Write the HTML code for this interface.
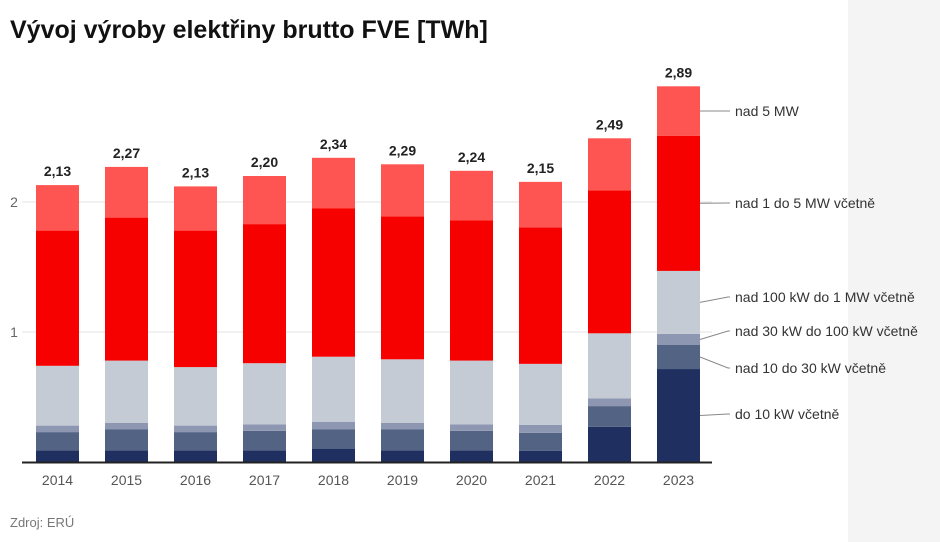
<!DOCTYPE html>
<html><head><meta charset="utf-8"><style>
body{margin:0;width:940px;height:542px;overflow:hidden;background:#fff;font-family:"Liberation Sans",sans-serif}
#side{position:absolute;left:848px;top:0;width:92px;height:542px;background:#f4f4f4}
#title{position:absolute;left:10px;top:16px;font-size:25px;font-weight:bold;color:#111}
#src{position:absolute;left:10px;top:515px;font-size:13px;color:#777}
svg{position:absolute;left:0;top:0}
</style></head><body>
<div id="side"></div>
<div id="title">Vývoj výroby elektřiny brutto FVE [TWh]</div>
<div id="src">Zdroj: ERÚ</div>
<svg id="chart" width="940" height="542"></svg>
<script>
const years=["2014","2015","2016","2017","2018","2019","2020","2021","2022","2023"];
const totals=["2,13","2,27","2,13","2,20","2,34","2,29","2,24","2,15","2,49","2,89"];
const s10kW=[0.09,0.09,0.09,0.09,0.10,0.09,0.09,0.085,0.27,0.715];
const s30kW=[0.14,0.16,0.14,0.15,0.15,0.16,0.15,0.14,0.16,0.185];
const s100kW=[0.05,0.05,0.05,0.05,0.06,0.05,0.05,0.06,0.06,0.085];
const s1MW=[0.46,0.48,0.45,0.47,0.50,0.49,0.49,0.47,0.50,0.485];
const s5MW=[1.04,1.10,1.05,1.07,1.14,1.10,1.08,1.05,1.10,1.04];
const sOver5=[0.35,0.39,0.34,0.37,0.39,0.40,0.38,0.35,0.40,0.38];
const seriesNames=["do 10 kW včetně","nad 10 do 30 kW včetně","nad 30 kW do 100 kW včetně","nad 100 kW do 1 MW včetně","nad 1 do 5 MW včetně","nad 5 MW"];
const yTicks=[1,2];
const series=[s10kW,s30kW,s100kW,s1MW,s5MW,sOver5];
const colors=["#1f2f5f","#536384","#8e97b1","#c5cbd5","#f70000","#ff5552"];
const labelY=[414,368,331,297,203,111];
const svg=document.getElementById('chart');const NS="http://www.w3.org/2000/svg";
const base=462,unit=130,x0=36,step=69,bw=43;
const y=v=>base-v*unit; const x=i=>x0+i*step;
function mk(t,a,txt){const e=document.createElementNS(NS,t);for(const k in a)e.setAttribute(k,a[k]);if(txt!=null)e.textContent=txt;svg.appendChild(e);return e;}
yTicks.forEach(t=>{
const g=mk('line',{x1:22,x2:712,y1:y(t),y2:y(t),stroke:'#e3e3e3','stroke-width':1});


const l=mk('text',{x:14,y:y(t)+5,'font-size':14,fill:'#666','text-anchor':'middle'},String(t));


});
years.forEach((yr,i)=>{
let cum=0;
series.forEach((s,k)=>{
const r=mk('rect',{x:x(i),y:y(cum+s[i]),width:bw,height:s[i]*unit,fill:colors[k]});


cum+=s[i];
});
const t=mk('text',{x:x(i)+bw/2,y:y(cum)-9,'font-size':14,'font-weight':'bold',fill:'#222','text-anchor':'middle'},totals[i]);


const xl=mk('text',{x:x(i)+bw/2,y:485,'font-size':14,fill:'#555','text-anchor':'middle'},yr);


});
const ax=mk('line',{x1:22,x2:712,y1:base+0.5,y2:base+0.5,stroke:'#222','stroke-width':2});


const last=years.length-1;let cum=0;
series.forEach((s,k)=>{
const mid=y(cum+s[last]/2);cum+=s[last];
const ln=mk('polyline',{points:`${x(last)+bw},${mid} ${728},${labelY[k]} ${730},${labelY[k]}`,fill:'none',stroke:'#888','stroke-width':1});


const t=mk('text',{x:735,y:labelY[k]+5,'font-size':14,fill:'#333'},seriesNames[k]);


});
</script>
</body></html>
